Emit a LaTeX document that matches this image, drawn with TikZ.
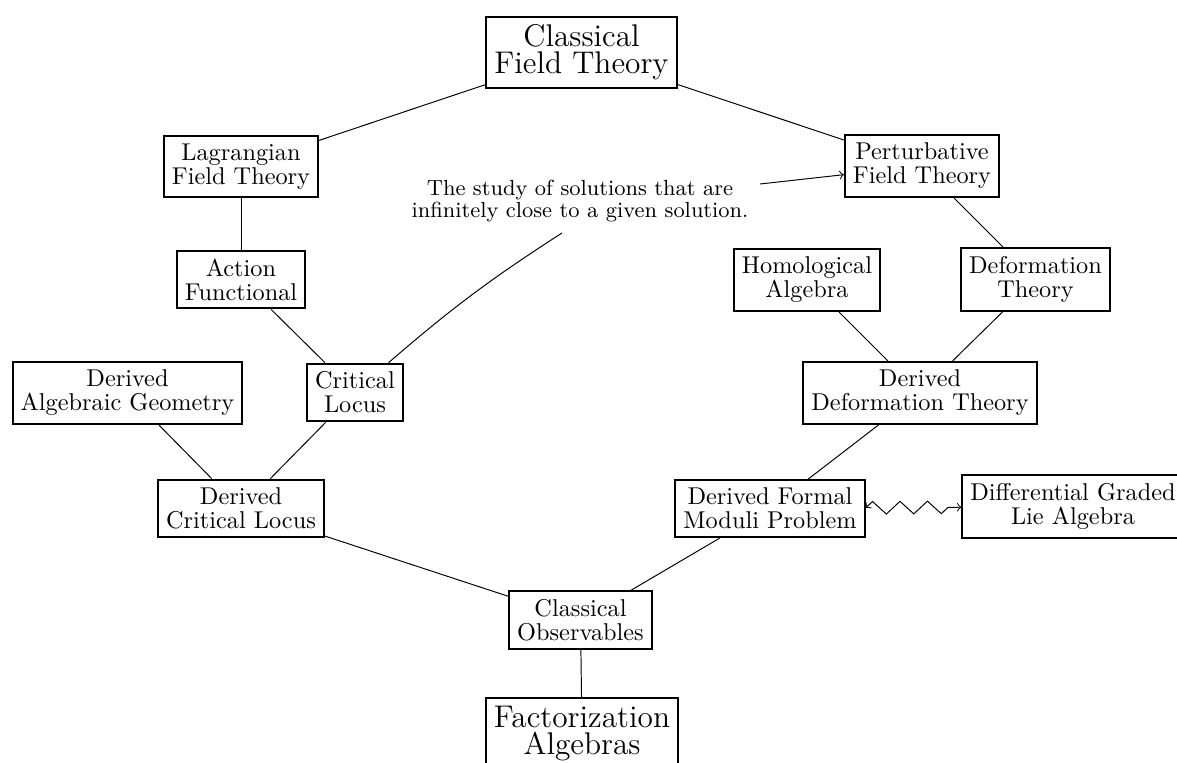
\documentclass[tikz,border=0pt]{standalone}
\usetikzlibrary{decorations.pathmorphing}
\begin{document}
\begin{tikzpicture}[x=0.41152pt,y=-0.41152pt,
  box/.style={draw, line width=0.8pt, align=center, inner sep=3.33pt, font=\fontsize{10}{9.9}\selectfont},
  bigbox/.style={box, font=\fontsize{12.9}{11.2}\selectfont},
  link/.style={line width=0.4pt},
  note/.style={align=center, inner sep=3.33pt, font=\fontsize{9}{9.05}\selectfont}]
\clip (0,0) rectangle (1177,763);
\node[bigbox] (cft) at (581.5,52.5) {Classical\\Field Theory};
\node[box] (lft) at (241,166.5) {Lagrangian\\Field Theory};
\node[box] (pft) at (922,166) {Perturbative\\Field Theory};
\node[box] (af) at (241,279.5) {Action\\Functional};
\node[box] (ha) at (807,280) {Homological\\Algebra};
\node[box] (dt) at (1035.5,279.5) {Deformation\\Theory};
\node[box] (dag) at (127.5,393) {Derived\\Algebraic Geometry};
\node[box] (cl) at (355,392.5) {Critical\\Locus};
\node[box] (ddt) at (920,393) {Derived\\Deformation Theory};
\node[box] (dcl) at (241,508.5) {Derived\\Critical Locus};
\node[box] (dfmp) at (770,508.5) {Derived Formal\\Moduli Problem};
\node[box] (dgla) at (1073,506.5) {Differential Graded\\Lie Algebra};
\node[box] (co) at (580.5,620) {Classical\\Observables};
\node[bigbox] (fa) at (582,733.5) {Factorization\\Algebras};
\node[note] (nt) at (580,201) {The study of solutions that are\\infinitely close to a given solution.};
\coordinate (nta) at (760,184);
\coordinate (ntb) at (562,233);

\draw[link] (cft) -- (lft);
\draw[link] (cft) -- (pft);
\draw[link] (lft) -- (af);
\draw[link] (af) -- (cl);
\draw[link] (dag) -- (dcl);
\draw[link] (cl) -- (dcl);
\draw[link] (pft) -- (dt);
\draw[link] (ha) -- (ddt);
\draw[link] (dt) -- (ddt);
\draw[link] (ddt) -- (dfmp);
\draw[link] (dcl) -- (co);
\draw[link] (dfmp) -- (co);
\draw[link] (co) -- (fa);
\draw[link,->] (nta) -- (pft);
\draw[link] (cl) to[bend left=4] (ntb);
\draw[link,<->,decorate,decoration={zigzag,segment length=11.3pt,amplitude=2.6pt}] (dfmp) -- (dgla);
\end{tikzpicture}
\end{document}
